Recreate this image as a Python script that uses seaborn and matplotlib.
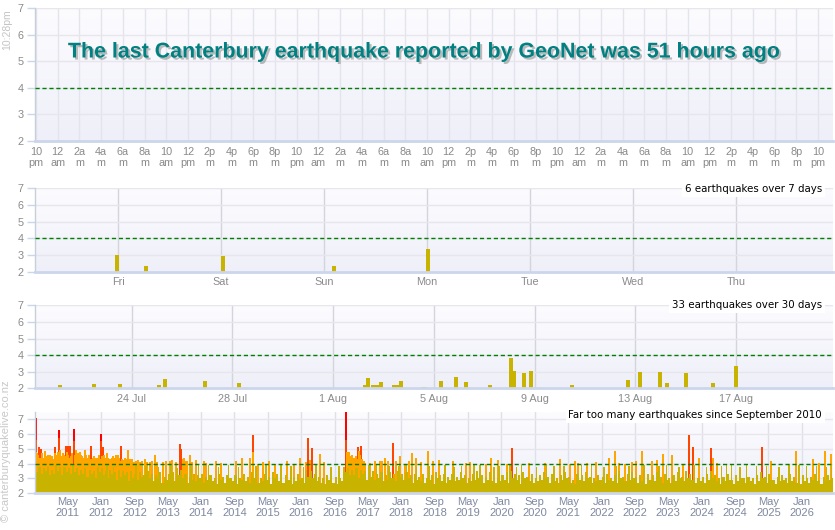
import numpy as np
import pandas as pd
import seaborn as sns
import matplotlib
matplotlib.use("Agg")
import matplotlib.pyplot as plt
import matplotlib.dates as mdates
import matplotlib.patheffects as pe
from matplotlib.colors import LinearSegmentedColormap

# ---------------- values ----------------
title = "The last Canterbury earthquake reported by GeoNet was 51 hours ago"
now_label = "10:28pm"
credit = "\u00a9 canterburyquakelive.co.nz"

hour_cycle = ["10\npm", "12\nam", "2a\nm", "4a\nm", "6a\nm", "8a\nm",
              "10\nam", "12\npm", "2p\nm", "4p\nm", "6p\nm", "8p\nm"]
hour_labels = hour_cycle * 3 + ["10\npm"]
hour_ticks = pd.date_range("2026-08-17 22:00", periods=len(hour_labels), freq="2h")

day_labels = ["Fri", "Sat", "Sun", "Mon", "Tue", "Wed", "Thu"]
day_ticks = pd.date_range("2026-08-14", periods=len(day_labels), freq="D")

date_labels = ["24 Jul", "28 Jul", "1 Aug", "5 Aug", "9 Aug", "13 Aug", "17 Aug"]
date_ticks = pd.date_range("2026-07-24", periods=len(date_labels), freq="4D")

year_labels = ["May\n2011", "Jan\n2012", "Sep\n2012", "May\n2013", "Jan\n2014", "Sep\n2014",
               "May\n2015", "Jan\n2016", "Sep\n2016", "May\n2017", "Jan\n2018", "Sep\n2018",
               "May\n2019", "Jan\n2020", "Sep\n2020", "May\n2021", "Jan\n2022", "Sep\n2022",
               "May\n2023", "Jan\n2024", "Sep\n2024", "May\n2025", "Jan\n2026"]
year_ticks = pd.date_range("2011-05-01", periods=len(year_labels), freq="8MS")

# quakes of the last 30 days (local time, magnitude)
quake_times = ["2026-07-21 03:35", "2026-07-22 12:00", "2026-07-23 13:00", "2026-07-25 02:00",
               "2026-07-25 07:40", "2026-07-26 22:00", "2026-07-28 06:15", "2026-08-02 06:00",
               "2026-08-02 09:10", "2026-08-02 14:00", "2026-08-02 17:50", "2026-08-02 21:40",
               "2026-08-03 10:00", "2026-08-03 12:30", "2026-08-03 16:50", "2026-08-04 14:40",
               "2026-08-05 06:40", "2026-08-05 21:00", "2026-08-06 06:40", "2026-08-07 05:30",
               "2026-08-08 01:30", "2026-08-08 04:20", "2026-08-08 14:00", "2026-08-08 20:40",
               "2026-08-10 11:45", "2026-08-12 17:00", "2026-08-13 04:30", "2026-08-13 23:50",
               "2026-08-14 06:25", "2026-08-15 00:30", "2026-08-16 02:25", "2026-08-17 00:20"]
quake_mags = [2.22, 2.28, 2.28, 2.22,
              2.56, 2.44, 2.34, 2.22,
              2.62, 2.22, 2.22, 2.38,
              2.22, 2.22, 2.44, 2.10,
              2.44, 2.70, 2.38, 2.22,
              3.84, 3.04, 2.92, 3.04,
              2.22, 2.50, 3.00, 3.00,
              2.34, 2.94, 2.34, 3.36]

# long-term panel, Sep 2010 .. Aug 2026: highest small quakes in the first half
# of each month, and the lower level in the second half
olive_peak = [
    3.9, 3.8, 3.7, 3.8,                                              # 2010
    3.6, 3.9, 3.8, 3.8, 3.7, 3.9, 3.7, 3.6, 3.7, 3.6, 3.5, 3.8,      # 2011
    3.7, 3.5, 3.6, 3.4, 3.6, 3.5, 3.4, 3.5, 3.3, 3.4, 3.2, 3.5,      # 2012
    3.3, 3.2, 3.4, 3.1, 3.3, 3.4, 3.7, 3.6, 3.3, 3.1, 3.3, 3.2,      # 2013
    3.3, 3.1, 3.2, 3.0, 3.3, 3.1, 3.2, 3.0, 3.2, 3.0, 3.3, 3.1,      # 2014
    3.4, 3.2, 3.0, 3.3, 3.1, 3.4, 3.3, 3.0, 3.2, 2.9, 3.1, 3.3,      # 2015
    3.0, 3.6, 3.5, 3.3, 3.1, 3.0, 3.2, 2.9, 3.1, 3.0, 3.8, 3.7,      # 2016
    3.6, 3.7, 3.6, 3.5, 3.4, 3.5, 3.3, 3.4, 3.2, 3.4, 3.3, 3.5,      # 2017
    3.3, 3.4, 3.2, 3.3, 3.1, 3.3, 3.0, 3.2, 3.4, 3.2, 3.3, 3.1,      # 2018
    3.3, 3.1, 3.4, 3.2, 3.0, 3.3, 3.5, 3.2, 3.1, 3.4, 3.2, 3.0,      # 2019
    3.2, 3.4, 3.5, 3.3, 3.2, 3.4, 3.1, 3.3, 3.0, 3.2, 3.4, 3.1,      # 2020
    3.3, 3.0, 3.2, 3.4, 3.1, 2.9, 3.3, 3.2, 3.4, 3.1, 3.0, 3.2,      # 2021
    3.1, 3.3, 3.0, 3.2, 3.5, 3.1, 3.3, 3.4, 3.1, 3.2, 3.0, 3.3,      # 2022
    3.2, 3.4, 3.1, 3.3, 3.0, 3.2, 3.4, 3.1, 3.5, 3.3, 3.2, 3.0,      # 2023
    3.1, 3.3, 3.5, 3.2, 3.0, 3.1, 3.3, 2.9, 3.2, 3.4, 3.0, 3.1,      # 2024
    3.0, 3.2, 3.4, 3.1, 3.3, 2.9, 3.1, 3.2, 3.0, 3.3, 3.1, 2.9,      # 2025
    3.2, 3.0, 3.1, 3.3, 2.9, 3.1, 3.2, 3.0,                          # 2026
]
olive_low = [
    3.4, 3.3, 3.5, 3.2,                                              # 2010
    3.3, 3.5, 3.2, 3.4, 3.3, 3.4, 3.2, 3.3, 3.1, 3.3, 3.0, 3.4,      # 2011
    3.2, 3.0, 3.3, 2.9, 3.1, 3.2, 2.8, 3.0, 2.9, 3.1, 2.8, 3.0,      # 2012
    2.8, 3.0, 2.7, 2.9, 3.0, 2.8, 3.2, 3.0, 2.7, 2.9, 2.8, 3.0,      # 2013
    2.7, 2.9, 2.8, 2.6, 2.9, 2.7, 3.0, 2.8, 2.6, 2.9, 2.8, 2.7,      # 2014
    3.0, 2.7, 2.8, 2.9, 2.6, 3.0, 2.8, 2.7, 2.9, 2.6, 2.8, 2.9,      # 2015
    2.7, 3.1, 3.0, 2.8, 2.7, 2.6, 2.9, 2.7, 2.6, 2.8, 3.4, 3.2,      # 2016
    3.2, 3.0, 3.3, 2.9, 3.1, 2.9, 3.0, 2.8, 2.9, 3.0, 2.8, 3.1,      # 2017
    2.9, 3.0, 2.7, 2.9, 2.8, 2.7, 2.9, 2.6, 3.0, 2.8, 2.7, 2.9,      # 2018
    2.8, 2.9, 3.0, 2.7, 2.8, 2.9, 3.0, 2.7, 2.9, 2.8, 2.7, 2.8,      # 2019
    2.9, 2.7, 3.0, 2.9, 2.6, 3.0, 2.8, 2.7, 2.8, 2.9, 3.0, 2.7,      # 2020
    2.8, 2.7, 2.9, 3.0, 2.7, 2.6, 2.9, 2.8, 3.0, 2.7, 2.8, 2.9,      # 2021
    2.7, 2.9, 2.8, 2.7, 3.0, 2.8, 2.9, 3.0, 2.7, 2.8, 2.6, 2.9,      # 2022
    2.8, 3.0, 2.7, 2.9, 2.7, 2.8, 3.0, 2.8, 3.0, 2.9, 2.7, 2.8,      # 2023
    2.7, 2.9, 3.0, 2.8, 2.6, 2.8, 2.9, 2.6, 2.8, 3.0, 2.7, 2.8,      # 2024
    2.6, 2.8, 3.0, 2.7, 2.9, 2.6, 2.8, 2.9, 2.7, 2.8, 2.7, 2.6,      # 2025
    2.8, 2.7, 2.9, 2.8, 2.6, 2.8, 2.9, 2.7,                          # 2026
]
month_starts = pd.date_range("2010-09-01", periods=len(olive_peak), freq="MS")

# the bigger quakes since Sep 2010 (decimal year, magnitude)
big_years = [2010.694, 2010.700, 2010.710, 2010.720, 2010.750, 2010.770, 2010.800, 2010.830,
             2010.860, 2010.874, 2010.900, 2010.941, 2010.970, 2011.007, 2011.030, 2011.074,
             2011.100, 2011.130, 2011.160, 2011.165, 2011.190, 2011.210, 2011.240, 2011.270,
             2011.300, 2011.330, 2011.360, 2011.390, 2011.430, 2011.454, 2011.460, 2011.494,
             2011.520, 2011.550, 2011.573, 2011.600, 2011.630, 2011.673, 2011.707, 2011.750,
             2011.780, 2011.800, 2011.840, 2011.873, 2011.930, 2011.960, 2011.990, 2011.995,
             2012.020, 2012.046, 2012.080, 2012.120, 2012.150, 2012.186, 2012.210, 2012.239,
             2012.270, 2012.306, 2012.339, 2012.370, 2012.406, 2012.439, 2012.470, 2012.539,
             2012.580, 2012.660, 2012.739, 2012.825, 2012.920, 2013.072, 2013.238, 2013.385,
             2013.425, 2013.578, 2013.600, 2013.638, 2013.718, 2013.771, 2013.891, 2014.058,
             2014.104, 2014.291, 2014.404, 2014.704, 2014.823, 2014.970, 2015.037, 2015.040,
             2015.136, 2015.236, 2015.356, 2015.469, 2015.723, 2015.849, 2015.969, 2016.089,
             2016.136, 2016.169, 2016.215, 2016.369, 2016.449, 2016.895, 2016.900, 2016.910,
             2016.930, 2016.955, 2016.980, 2017.021, 2017.050, 2017.080, 2017.134, 2017.154,
             2017.170, 2017.194, 2017.220, 2017.268, 2017.381, 2017.467, 2017.567, 2017.607,
             2017.667, 2017.734, 2017.834, 2017.887, 2017.980, 2018.067, 2018.153, 2018.213,
             2018.287, 2018.400, 2018.533, 2018.633, 2018.753, 2019.033, 2019.299, 2019.379,
             2019.699, 2019.799, 2019.932, 2020.112, 2020.218, 2020.544, 2020.877, 2021.177,
             2021.377, 2021.464, 2021.530, 2021.710, 2021.896, 2022.150, 2022.269, 2022.349,
             2022.462, 2022.602, 2022.696, 2022.802, 2023.002, 2023.102, 2023.222, 2023.402,
             2023.635, 2023.748, 2023.821, 2023.954, 2024.181, 2024.221, 2024.314, 2025.213,
             2025.380, 2025.886, 2026.219, 2026.352, 2026.465, 2026.585]
big_mags = [7.10, 5.60, 4.80, 4.70, 4.50, 5.10, 5.00, 4.60,
            4.40, 4.86, 4.50, 4.60, 4.30, 4.37, 4.50, 5.10,
            4.60, 4.40, 6.25, 5.70, 4.90, 4.50, 4.70, 4.30,
            5.20, 5.20, 5.15, 5.20, 4.70, 6.30, 5.50, 4.90,
            4.50, 4.30, 4.80, 4.60, 4.40, 4.93, 4.60, 4.50,
            4.30, 5.20, 4.40, 4.20, 4.30, 4.60, 6.00, 5.50,
            4.50, 5.10, 4.40, 4.70, 4.20, 4.30, 4.40, 4.50,
            4.30, 4.60, 4.60, 4.20, 5.15, 4.26, 4.40, 4.90,
            4.30, 4.10, 4.26, 4.20, 4.10, 4.55, 4.10, 4.15,
            4.26, 5.30, 5.00, 4.30, 4.15, 4.60, 4.26, 4.15,
            4.05, 4.15, 4.05, 4.20, 4.40, 4.40, 5.90, 4.77,
            4.00, 4.10, 4.20, 4.00, 4.20, 4.00, 4.40, 4.10,
            5.71, 4.26, 5.04, 4.64, 4.10, 7.80, 5.60, 4.80,
            4.50, 4.77, 4.30, 4.55, 4.40, 4.20, 5.10, 4.82,
            4.60, 5.17, 4.30, 4.04, 4.04, 4.20, 4.20, 4.20,
            4.40, 4.20, 5.38, 4.20, 4.50, 4.00, 4.20, 4.70,
            4.37, 4.10, 4.82, 4.20, 4.26, 4.20, 4.04, 4.10,
            4.00, 4.40, 4.26, 4.00, 5.04, 4.04, 4.04, 4.30,
            4.00, 4.20, 4.04, 4.04, 4.10, 4.37, 4.82, 4.04,
            4.00, 4.10, 4.15, 4.82, 4.15, 4.26, 4.64, 4.55,
            4.00, 5.90, 5.10, 4.37, 5.04, 4.40, 4.04, 5.09,
            4.15, 4.82, 4.30, 4.04, 4.86, 4.64]

# the dense aftershock sequences (2010-2013 and after Kaikoura)
swarm_years = [2010.735, 2010.785, 2010.815, 2010.845, 2010.890, 2010.920, 2010.955, 2010.990,
               2011.050, 2011.085, 2011.115, 2011.145, 2011.180, 2011.225, 2011.255, 2011.285,
               2011.315, 2011.345, 2011.375, 2011.410, 2011.475, 2011.505, 2011.535, 2011.590,
               2011.615, 2011.645, 2011.690, 2011.725, 2011.765, 2011.820, 2011.855, 2011.890,
               2011.910, 2011.945, 2012.005, 2012.060, 2012.100, 2012.135, 2012.170, 2012.225,
               2012.255, 2012.290, 2012.320, 2012.355, 2012.420, 2012.455, 2012.500, 2012.520,
               2012.560, 2012.620, 2012.700, 2012.780, 2012.870, 2012.970, 2013.020, 2013.120,
               2013.300, 2013.500, 2013.660, 2013.700, 2013.820, 2016.940, 2016.965, 2017.000,
               2017.035, 2017.100, 2017.115, 2017.250]
swarm_mags = [4.60, 4.40, 4.70, 4.30, 4.60, 4.40, 4.50, 4.60,
              4.30, 4.70, 4.50, 4.80, 4.60, 4.40, 4.60, 4.50,
              4.80, 4.60, 4.40, 4.50, 4.60, 4.40, 4.70, 4.30,
              4.50, 4.40, 4.30, 4.40, 4.60, 4.30, 4.50, 4.40,
              4.20, 4.40, 4.30, 4.60, 4.30, 4.40, 4.20, 4.30,
              4.40, 4.20, 4.30, 4.40, 4.30, 4.20, 4.30, 4.10,
              4.20, 4.30, 4.20, 4.10, 4.30, 4.10, 4.20, 4.10,
              4.20, 4.10, 4.40, 4.20, 4.10, 4.60, 4.40, 4.50,
              4.30, 4.50, 4.30, 4.20]

# tall small quakes standing out of the olive mass
small_years = [2012.12, 2012.25, 2012.70, 2012.90, 2013.15, 2013.40, 2013.80, 2013.95,
               2014.15, 2014.35, 2014.55, 2014.75, 2015.10, 2015.30, 2015.60, 2015.80,
               2016.05, 2016.30, 2016.60, 2016.75, 2017.35, 2017.50, 2017.75, 2017.95,
               2018.10, 2018.30, 2018.55, 2018.87, 2019.05, 2019.20, 2019.45, 2019.57,
               2019.85, 2019.95, 2020.17, 2020.30, 2020.40, 2020.70, 2020.90, 2021.05,
               2021.25, 2021.60, 2021.80, 2022.05, 2022.30, 2022.55, 2022.85, 2023.15,
               2023.30, 2023.55, 2023.85, 2024.10, 2024.40, 2024.50, 2024.60, 2024.77,
               2024.90, 2025.10, 2025.30, 2025.55, 2025.75, 2025.95, 2026.10, 2026.30,
               2026.50, 2026.60]
small_mags = [3.90, 3.80, 3.90, 3.85, 3.80, 3.90, 3.85, 3.90,
              3.90, 3.80, 3.90, 3.80, 3.85, 3.90, 3.90, 3.85,
              3.80, 3.90, 3.75, 3.85, 3.90, 3.90, 3.85, 3.85,
              3.90, 3.80, 3.85, 3.90, 3.80, 3.85, 3.90, 3.90,
              3.80, 3.85, 3.90, 3.80, 3.90, 3.80, 3.90, 3.85,
              3.85, 3.90, 3.90, 3.80, 3.85, 3.85, 3.90, 3.85,
              3.90, 3.80, 3.90, 3.80, 3.85, 3.90, 3.90, 3.80,
              3.90, 3.85, 3.85, 3.80, 3.90, 3.90, 3.85, 3.85,
              3.80, 3.90]

# ---------------- look ----------------
OLIVE = "#c8b400"


def quake_colour(m):
    if m >= 6:
        return "#ff0000"
    if m >= 5:
        return "#ff4500"
    if m >= 4:
        return "#ffa500"
    return OLIVE


def dec_year(ts):
    return ts.year + (ts.month - 1) / 12 + (ts.day - 1) / 365.0


sns.set_theme(style="white")
plt.rcParams["font.family"] = ["Liberation Sans", "DejaVu Sans"]

bg = LinearSegmentedColormap.from_list("bg", ["#efeff9", "#fcfcff"])
W, H = 835, 530
fig = plt.figure(figsize=(W / 100, H / 100), dpi=100)


def panel(top, bottom, ymax, vgrid):
    ax = fig.add_axes([35 / W, 1 - bottom / H, 798 / W, (bottom - top) / H])
    grad = np.linspace(0, 1, 64).reshape(-1, 1)
    ax.imshow(grad, cmap=bg, aspect="auto", extent=[0, 1, 0, 1], origin="lower",
              transform=ax.transAxes, zorder=-5)
    ax.set_ylim(2, ymax)
    ax.set_yticks(range(2, 8))
    ax.set_axisbelow(True)
    ax.yaxis.grid(True, color="#e6e6ec", lw=1)
    ax.xaxis.grid(True, color=vgrid, lw=1)
    sns.despine(ax=ax, top=True, right=True)
    ax.spines["left"].set_color("#c6d0dc")
    ax.spines["left"].set_linewidth(1)
    ax.spines["bottom"].set_color("#ccd6eb")
    ax.spines["bottom"].set_linewidth(2)
    ax.tick_params(axis="y", length=6, width=1, color="#ccd6eb", labelcolor="#8a8a8a",
                   labelsize=7.8, pad=2, left=True)
    ax.tick_params(axis="x", length=0, labelcolor="#8a8a8a", labelsize=7.8, pad=4)
    ax.axhline(4, color="#008000", lw=1, ls=(0, (3, 2)), zorder=4)
    return ax


# panel 1: last 72 hours (empty)
ax1 = panel(8.3, 141, 7, "#e4e4ec")
t0 = mdates.date2num(hour_ticks[0])
ax1.set_xlim(t0 - 0.09 / 24, t0 + 73.38 / 24)
ax1.set_xticks(mdates.date2num(hour_ticks))
ax1.set_xticklabels(hour_labels, linespacing=1.2)

# panel 2: last 7 days
ax2 = panel(188.3, 271.7, 7, "#d4d4dc")
d0 = mdates.date2num(day_ticks[0])
x_q = mdates.date2num(pd.to_datetime(quake_times))
ax2.bar(x_q, np.array(quake_mags) - 2, bottom=2, width=4 / 102.83, color=OLIVE, lw=0, zorder=2)
ax2.set_xlim(d0 - 0.806, d0 + 6.942)
ax2.set_xticks(mdates.date2num(day_ticks))
ax2.set_xticklabels(day_labels)

# panel 3: last 30 days
ax3 = panel(305.3, 388.3, 7, "#d4d4dc")
m0 = mdates.date2num(date_ticks[0])
ax3.bar(x_q, np.array(quake_mags) - 2, bottom=2, width=4 / 25.18, color=OLIVE, lw=0, zorder=2)
ax3.set_xlim(m0 - 3.84, m0 + 27.85)
ax3.set_xticks(mdates.date2num(date_ticks))
ax3.set_xticklabels(date_labels)

# panel 4: since September 2010
month_x = np.array([dec_year(t) for t in month_starts])
bars = pd.concat([
    pd.DataFrame({"x": month_x + 1 / 48, "mag": olive_peak, "w": 1 / 24}),
    pd.DataFrame({"x": month_x + 3 / 48, "mag": olive_low, "w": 1 / 24}),
    pd.DataFrame({"x": big_years, "mag": big_mags, "w": 0.04}),
    pd.DataFrame({"x": swarm_years, "mag": swarm_mags, "w": 0.04}),
    pd.DataFrame({"x": small_years, "mag": small_mags, "w": 0.03}),
]).sort_values("mag", ascending=False)

ax4 = panel(412.3, 493.3, 7.45, "#e0e0e8")
ax4.bar(bars["x"], bars["mag"] - 2, bottom=2, width=bars["w"],
        color=[quake_colour(m) for m in bars["mag"]], lw=0, zorder=2)
ax4.set_xlim(2010.681, 2026.625)
ax4.set_xticks([dec_year(t) for t in year_ticks])
ax4.set_xticklabels(year_labels, linespacing=1.05)
ax4.tick_params(axis="x", labelcolor="#7f88a0", labelsize=8, pad=3)

# texts
fig.text(425.5 / W, 1 - 52 / H, title, ha="center", va="center", fontsize=15.4,
         fontweight="bold", color="#008080",
         path_effects=[pe.withSimplePatchShadow(offset=(1.5, -1.5), shadow_rgbFace="#888888",
                                                alpha=0.55)])
fig.text(7 / W, 1 - 30 / H, now_label, rotation=90, ha="center", va="center",
         fontsize=7.5, color="#c4c4c4")
fig.text(6 / W, 1 - 451 / H, credit, rotation=90, ha="center", va="center",
         fontsize=8, color="#c8c8c8")
box = dict(facecolor="white", edgecolor="none", pad=2)
for txt, y in [("6 earthquakes over 7 days", 189),
               ("33 earthquakes over 30 days", 305.5),
               ("Far too many earthquakes since September 2010", 415)]:
    fig.text(822 / W, 1 - y / H, txt, ha="right", va="center", fontsize=7.35,
             color="black", bbox=box, family=["DejaVu Sans"])

fig.savefig("out.png", dpi=100)
